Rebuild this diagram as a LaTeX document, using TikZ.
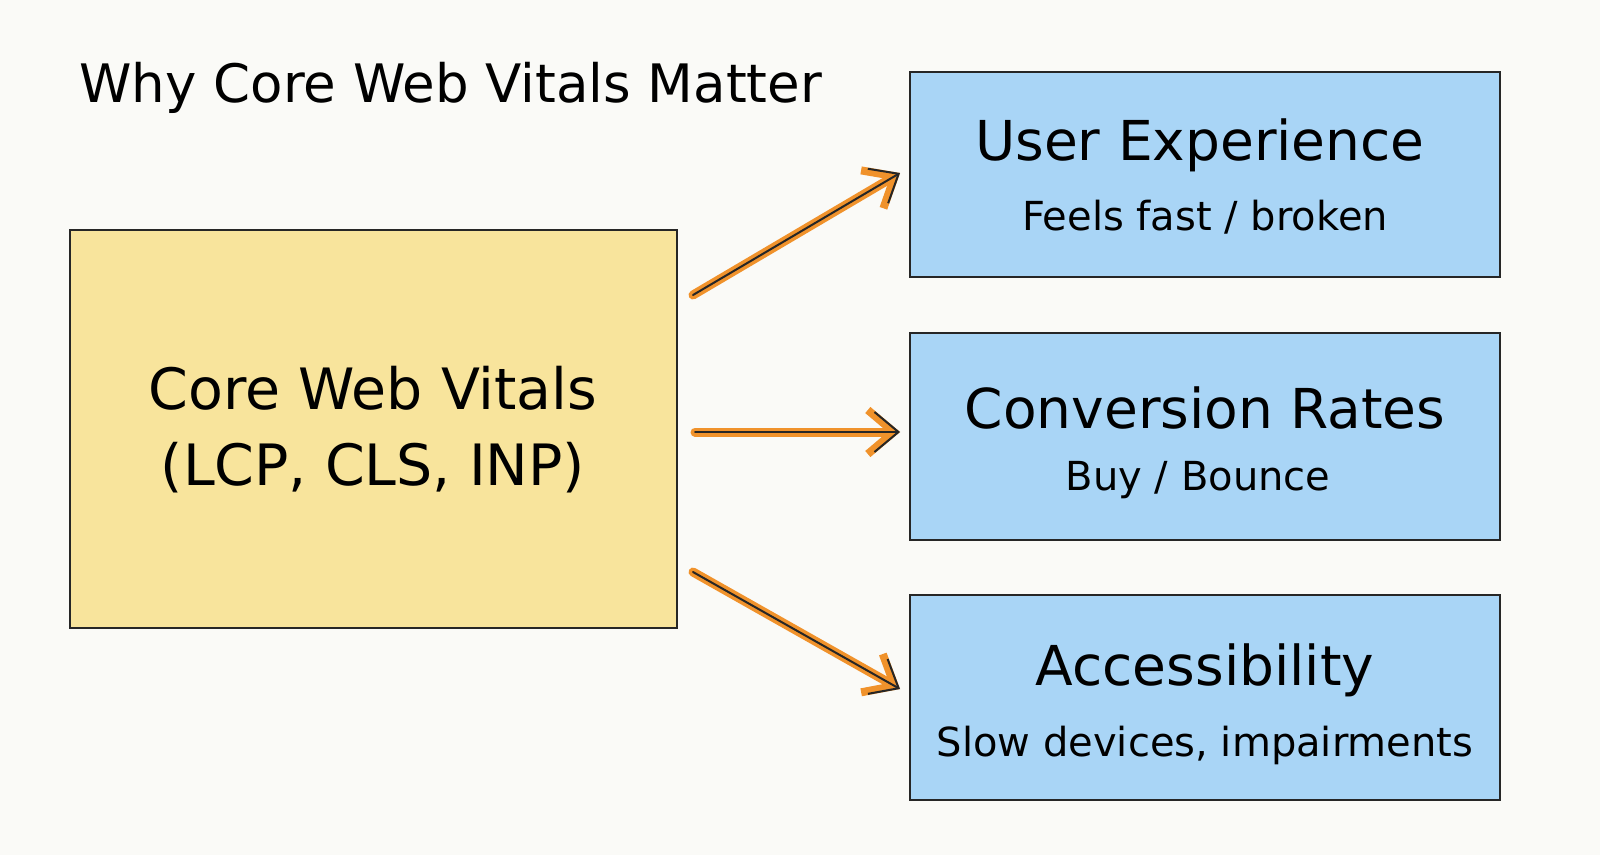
\documentclass[tikz,border=0pt]{standalone}
\usepackage{fontspec}
\setmainfont{DejaVu Sans}
\usetikzlibrary{arrows.meta}
\definecolor{bg}{HTML}{FAFAF7}
\definecolor{yel}{HTML}{F8E49C}
\definecolor{blu}{HTML}{A9D5F6}
\definecolor{org}{HTML}{F0922B}
\tikzset{
 box/.style={draw=black!85,line width=2.4pt,inner sep=0pt},
 arr/.style={line width=9pt,org,line cap=round,-{Straight Barb[length=26pt,width=44pt,line width=8pt]}},
 arrin/.style={line width=2pt,black!85,line cap=round,-{Straight Barb[length=24pt,width=40pt,line width=2pt]}},
 ttl/.style={font=\fontsize{55}{62}\selectfont},
 sub/.style={font=\fontsize{40}{46}\selectfont}
}
\begin{document}
\begin{tikzpicture}[x=1pt,y=-1pt]
\path[use as bounding box,fill=bg] (0,0) rectangle (1600,855);
\node[anchor=west,font=\fontsize{53}{60}\selectfont] (title) at (76,88) {Why Core Web Vitals Matter};
\draw[box,fill=yel] (70,230) rectangle (677,628);
\node (core) at (373,430) [align=center,font=\fontsize{57}{76}\selectfont] {Core Web Vitals\\(LCP, CLS, INP)};
\draw[box,fill=blu] (910,72) rectangle (1500,277);
\draw[box,fill=blu] (910,333) rectangle (1500,540);
\draw[box,fill=blu] (910,595) rectangle (1500,800);
\node[ttl] (ux) at (1200,145) {User Experience};
\node[sub] (uxs) at (1205,217) {Feels fast / broken};
\node[ttl] (cr) at (1205,408) {Conversion Rates};
\node[sub] (crs) at (1198,480) {Buy / Bounce};
\node[ttl] (ac) at (1205,670) {Accessibility};
\node[sub] (acs) at (1205,745) {Slow devices, impairments};
\coordinate (a1s) at (693,295); \coordinate (a1e) at (900,173);
\coordinate (a2s) at (695,432); \coordinate (a2e) at (900,432);
\coordinate (a3s) at (693,572); \coordinate (a3e) at (900,689);
\foreach \s/\e in {a1s/a1e,a2s/a2e,a3s/a3e}{
 \draw[arr] (\s) -- (\e);
 \draw[arrin] (\s) -- (\e);
}
\end{tikzpicture}
\end{document}
